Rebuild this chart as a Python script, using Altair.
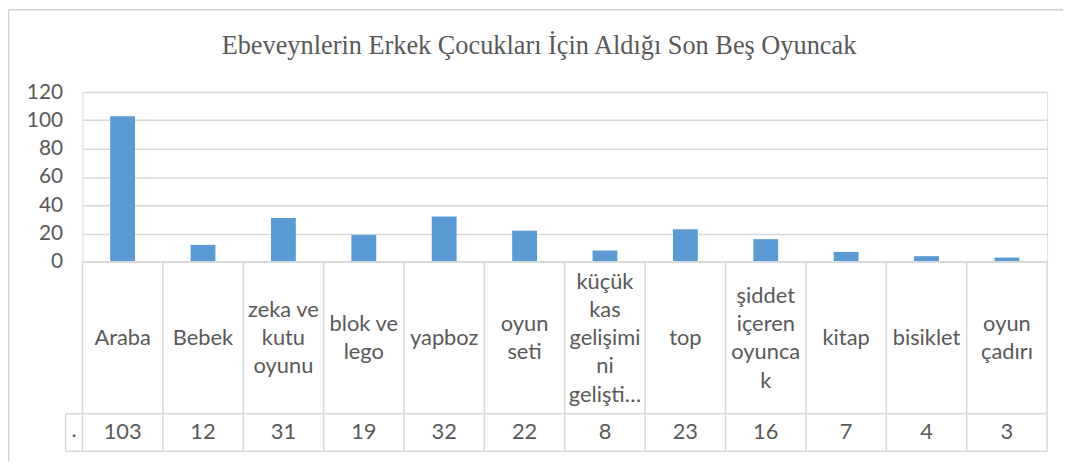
import altair as alt
import pandas as pd

# ---- data ----
categories = ["Araba", "Bebek", "zeka ve kutu oyunu", "blok ve lego", "yapboz",
              "oyun seti", "küçük kas gelişimini gelişti…", "top",
              "şiddet içeren oyuncak", "kitap", "bisiklet", "oyun çadırı"]
label_lines = ["Araba", "Bebek", "zeka ve\nkutu\noyunu", "blok ve\nlego", "yapboz",
               "oyun\nseti", "küçük\nkas\ngelişimi\nni\ngelişti…", "top",
               "şiddet\niçeren\noyunca\nk", "kitap", "bisiklet", "oyun\nçadırı"]
values = [103, 12, 31, 19, 32, 22, 8, 23, 16, 7, 4, 3]
y_ticks = [0, 20, 40, 60, 80, 100, 120]
series_label = "."
title_text = "Ebeveynlerin Erkek Çocukları İçin Aldığı Son Beş Oyuncak"

df = pd.DataFrame({"cat": categories, "label": label_lines, "value": values})
deco = alt.Data(values=[{"k": 1}])

GRID = "#d9d9d9"
TXT = "#595959"
FONT = "Lato"
FS_AXIS = 21
FS = 22
LH = 28.5

W, H = 972, 171
CAT_ROW_CENTER = 248
CAT_ROW_BOTTOM = 324
TABLE_BOTTOM = 362

xenc = alt.X("cat:N", sort=categories,
             scale=alt.Scale(paddingInner=0, paddingOuter=0), axis=None)

base = alt.Chart(df)

bars = base.mark_bar(size=25, color="#5b9bd5").encode(
    x=xenc,
    y=alt.Y("value:Q", scale=alt.Scale(domain=[0, 120], nice=False),
            axis=alt.Axis(values=y_ticks, title=None, ticks=False, domain=False,
                          labelFont=FONT, labelFontSize=FS_AXIS, labelColor=TXT,
                          labelPadding=20, gridColor=GRID, gridWidth=1.5)),
)

# centre each multi-line label block vertically in the category row
cat_text = base.transform_calculate(
    nlines="length(split(datum.label, '\\n'))"
).transform_calculate(
    ypos=f"{CAT_ROW_CENTER} - (datum.nlines - 1) * {LH} / 2"
).mark_text(font=FONT, fontSize=FS, color=TXT, lineBreak="\n",
            lineHeight=LH, baseline="middle").encode(
    x=xenc, y=alt.Y("ypos:Q", scale=None), text="label:N")

val_text = base.mark_text(font=FONT, fontSize=FS, color=TXT,
                          baseline="middle").encode(
    x=xenc, y=alt.value(343), text="value:Q")

vlines = base.mark_rule(color=GRID, strokeWidth=1.5).encode(
    x=alt.X("cat:N", sort=categories, bandPosition=0,
            scale=alt.Scale(paddingInner=0, paddingOuter=0), axis=None),
    y=alt.value(H), y2=alt.value(TABLE_BOTTOM))


def rule(x, x2, y, y2, color=GRID, width=1.5):
    return alt.Chart(deco).mark_rule(color=color, strokeWidth=width).encode(
        x=alt.value(x), x2=alt.value(x2), y=alt.value(y), y2=alt.value(y2))


deco_layers = [
    rule(W, W, H, TABLE_BOTTOM),                       # right edge of table
    rule(0, W, H, H),                                  # axis line / table top
    rule(-17, W, CAT_ROW_BOTTOM, CAT_ROW_BOTTOM),      # value row top
    rule(-17, W, TABLE_BOTTOM, TABLE_BOTTOM),          # table bottom
    rule(-17, -17, CAT_ROW_BOTTOM, TABLE_BOTTOM),      # legend cell left
    rule(-74.5, 990, -83, -83, "#d0d0d0", 1.5),        # chart border top
    rule(-74.5, -74.5, -83, 372, "#d0d0d0", 1.5),      # chart border left
]

dot = alt.Chart(deco).mark_text(font=FONT, fontSize=FS, color=TXT,
                                baseline="middle").encode(
    x=alt.value(-8.5), y=alt.value(341), text=alt.value(series_label))

title = alt.Chart(deco).mark_text(font="Liberation Serif", fontSize=26.5, color=TXT,
                                  baseline="alphabetic", align="center").encode(
    x=alt.value(460), y=alt.value(-38), text=alt.value(title_text))

chart = alt.layer(bars, vlines, *deco_layers, cat_text, val_text, dot, title).properties(
    width=W, height=H,
    padding={"left": 75, "top": 83, "right": 16, "bottom": 200},
    autosize=alt.AutoSizeParams(type="none"),
).configure_view(stroke=None).configure(background="white")

chart.save("out.html", embed_options={"renderer": "svg", "actions": False})
